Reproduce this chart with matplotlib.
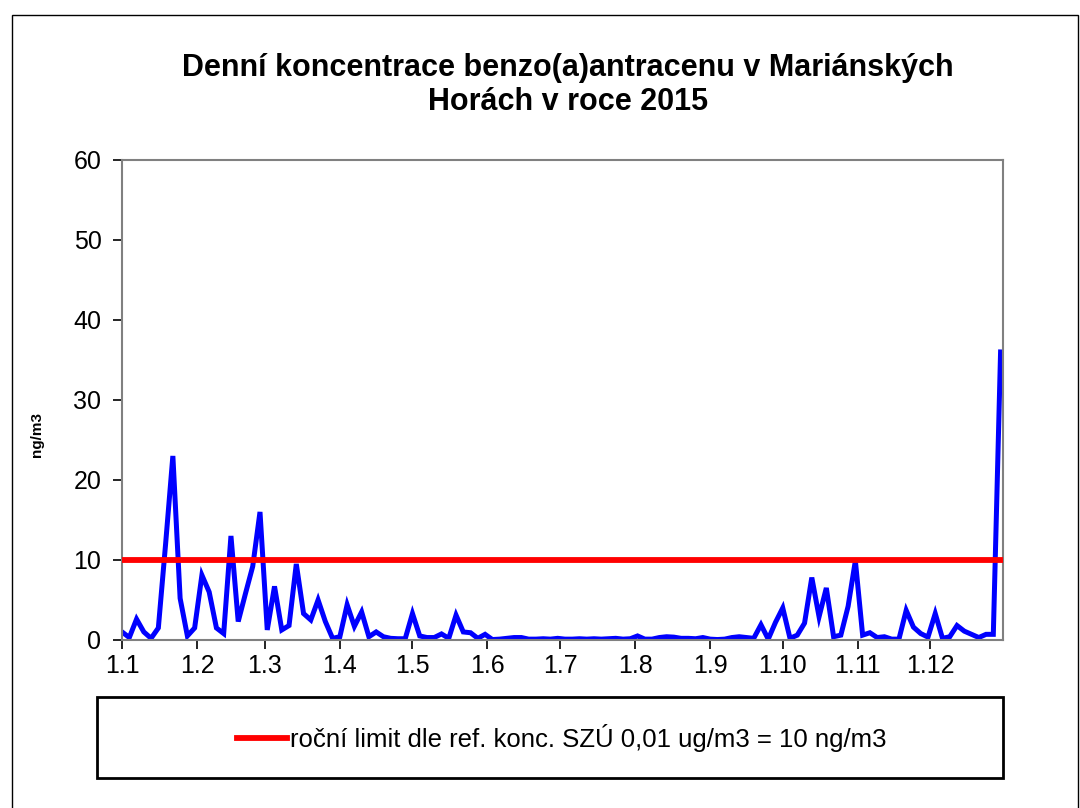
import numpy as np
import pandas as pd
import matplotlib.pyplot as plt
from matplotlib.patches import Rectangle

# ---------------------------------------------------------------------
# Data: benzo(a)anthracene, sampled every 3rd day in 2015 (ng/m3)
# ---------------------------------------------------------------------
start_date = "2015-01-01"
sample_step_days = 3
concentration = [
    1.0, 0.3, 2.6, 1.0, 0.2, 1.5, 12.0, 23.0, 5.2, 0.5,
    1.5, 8.1, 6.0, 1.5, 0.8, 13.0, 2.3, 5.8, 9.2, 16.0,
    1.25, 6.7, 1.25, 1.8, 9.5, 3.3, 2.5, 5.0, 2.3, 0.2,
    0.4, 4.4, 1.7, 3.5, 0.4, 1.0, 0.4, 0.2, 0.15, 0.15,
    3.3, 0.5, 0.3, 0.3, 0.75, 0.2, 3.1, 1.0, 0.9, 0.2,
    0.7, 0.05, 0.1, 0.2, 0.3, 0.3, 0.1, 0.1, 0.15, 0.1,
    0.2, 0.1, 0.1, 0.15, 0.1, 0.15, 0.1, 0.15, 0.2, 0.1,
    0.15, 0.5, 0.1, 0.1, 0.3, 0.4, 0.35, 0.2, 0.2, 0.15,
    0.3, 0.1, 0.05, 0.1, 0.3, 0.4, 0.3, 0.2, 1.9, 0.1,
    2.2, 4.0, 0.2, 0.6, 2.1, 7.8, 2.9, 6.5, 0.4, 0.6,
    4.2, 9.9, 0.6, 0.9, 0.3, 0.4, 0.1, 0.1, 3.7, 1.6,
    0.8, 0.35, 3.3, 0.2, 0.4, 1.8, 1.1, 0.7, 0.3, 0.7,
    0.7, 36.0,
]
annual_limit = 10.0
month_labels = ["1.1", "1.2", "1.3", "1.4", "1.5", "1.6",
                "1.7", "1.8", "1.9", "1.10", "1.11", "1.12"]

title_text = "Denní koncentrace benzo(a)antracenu v Mariánských\nHorách v roce 2015"
legend_text = "roční limit dle ref. konc. SZÚ 0,01 ug/m3 = 10 ng/m3"
y_label = "ng/m3"

dates = pd.date_range(start=start_date, periods=len(concentration),
                      freq=f"{sample_step_days}D")
month_starts = pd.date_range(start=start_date, periods=12, freq="MS")
x_end = pd.Timestamp("2015-12-31")

# ---------------------------------------------------------------------
# Plot
# ---------------------------------------------------------------------
plt.rcParams["font.family"] = ["Liberation Sans", "DejaVu Sans"]

fig = plt.figure(figsize=(10.8, 8.08), dpi=100)
ax = fig.add_axes([0.113, 0.208, 0.8157, 0.594])

ax.plot(dates, concentration, color="#0000ff", linewidth=3.6,
        solid_joinstyle="miter", zorder=2)
ax.plot([dates[0], x_end], [annual_limit, annual_limit], color="#ff0000",
        linewidth=4.2, label=legend_text, zorder=3)

ax.set_xlim(dates[0], x_end)
ax.set_ylim(0, 60)
ax.set_yticks(np.arange(0, 61, 10))
ax.set_xticks(month_starts)
ax.set_xticklabels(month_labels)
ax.tick_params(axis="both", direction="out", length=6.8, width=1.2,
               labelsize=18, color="black")
ax.tick_params(axis="y", pad=8)
ax.tick_params(axis="x", pad=3)
for side in ["left", "bottom", "right", "top"]:
    ax.spines[side].set_color("#808080")
    ax.spines[side].set_linewidth(1.5)

fig.text(0.034, 0.462, y_label, rotation=90, fontsize=11, fontweight="bold",
         ha="center", va="center")

fig.text(0.526, 0.895, title_text, fontsize=22, fontweight="bold",
         ha="center", va="center", multialignment="center", linespacing=1.15)

# legend box spanning the plot width
fig.patches.append(Rectangle((0.0898, 0.037), 0.839, 0.1, transform=fig.transFigure,
                             facecolor="white", edgecolor="black", linewidth=2))
fig.legend(loc="center", bbox_to_anchor=(0.52, 0.087), frameon=False,
           fontsize=18.5, handlelength=1.95, handletextpad=0.1)

# outer chart border
fig.patches.append(Rectangle((0.011, -0.01), 0.987, 0.991, transform=fig.transFigure,
                             facecolor="none", edgecolor="black", linewidth=1))

fig.savefig("out.png", dpi=100)
